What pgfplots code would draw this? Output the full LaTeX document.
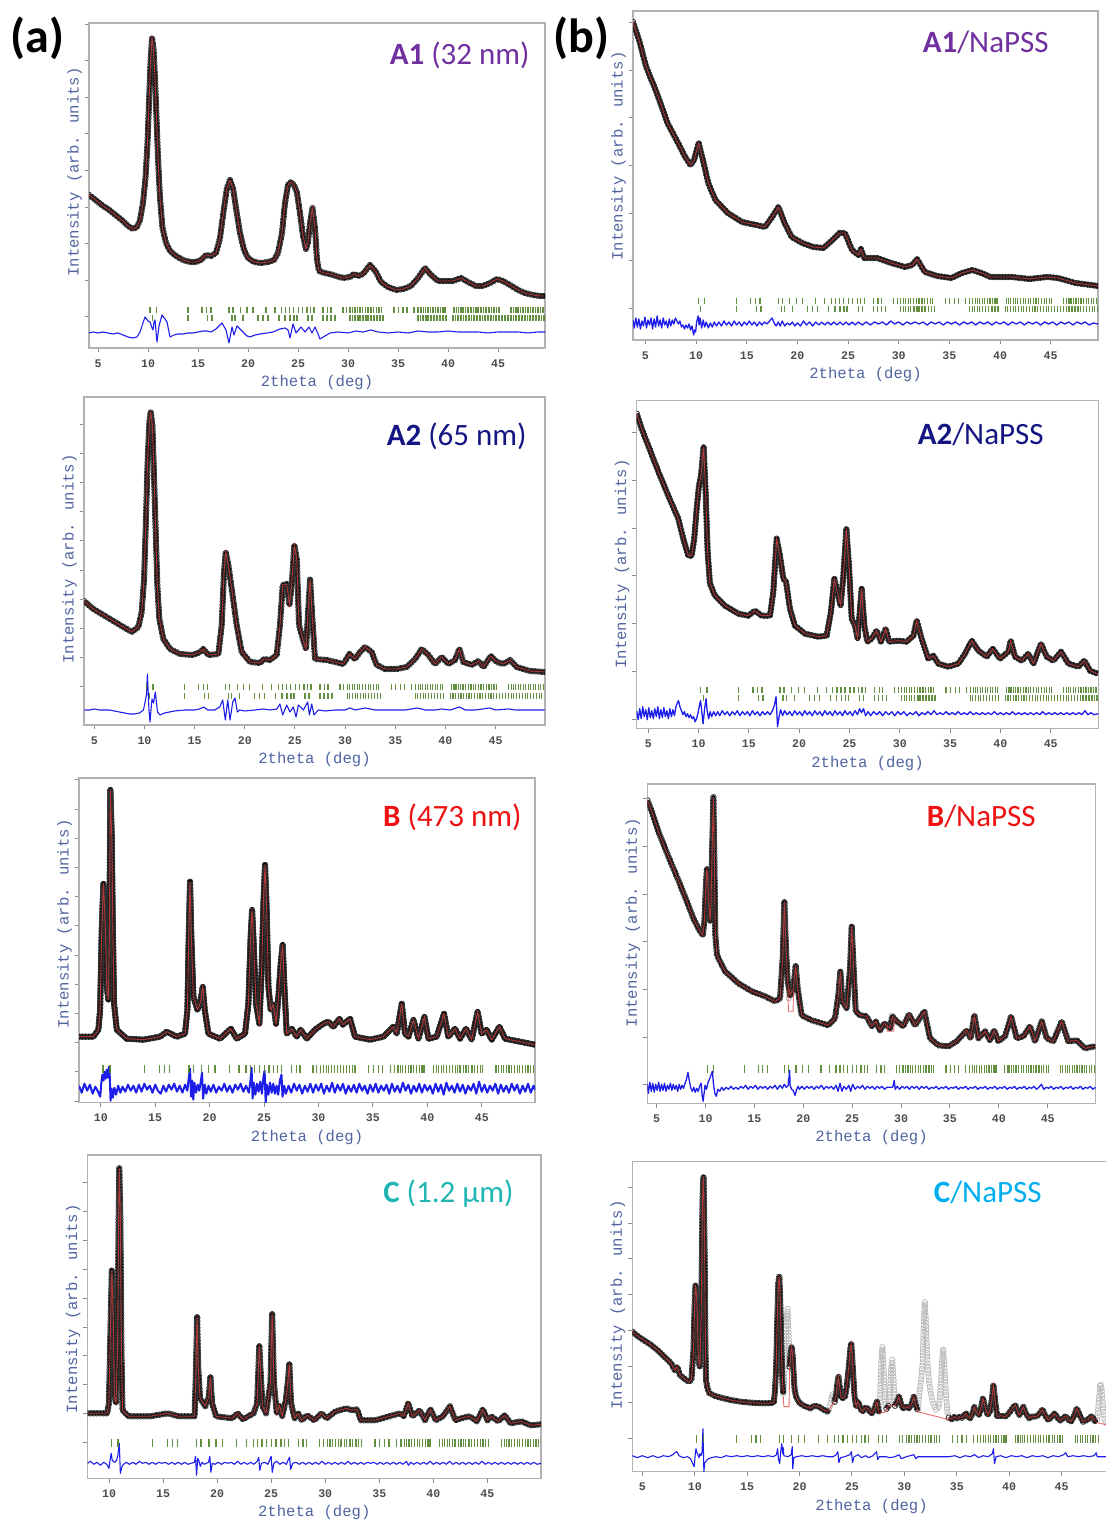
\documentclass[border=0pt]{standalone}
\usepackage{fontspec}
\setmainfont{Carlito}
\newfontfamily\monofont{Liberation Mono}
\usepackage{pgfplots}
\pgfplotsset{compat=1.18}
\usepackage{pgfplotstable}
\usetikzlibrary{decorations.markings}

\definecolor{tickgreen}{RGB}{70,125,30}
\definecolor{labblue}{RGB}{80,100,160}
\definecolor{diffblue}{RGB}{30,30,235}
\definecolor{calcred}{RGB}{225,60,60}
\definecolor{cAone}{RGB}{112,48,160}
\definecolor{cAtwo}{RGB}{20,20,130}
\definecolor{cB}{RGB}{238,17,17}
\definecolor{cC}{RGB}{31,181,179}
\definecolor{cCN}{RGB}{0,174,239}

\newcommand\tickfont{\monofont\bfseries\fontsize{5.8pt}{6.5pt}\selectfont}
\newcommand\labfont{\monofont\fontsize{7.8pt}{9pt}\selectfont}
\newcommand\titlefont{\fontsize{15.5pt}{18pt}\selectfont}
\newcommand\panelfont{\bfseries\fontsize{24pt}{28pt}\selectfont}

\pgfplotsset{
  xrd/.style={
    scale only axis, clip=true, disabledatascaling,
    axis line style={draw=black!30, line width=0.7pt},
    tick pos=left, tick align=outside, major tick length=2.2pt,
    tick style={draw=black!45, line width=0.5pt},
    ymin=0, yticklabels={},
    /pgf/number format/assume math mode=true,
    xticklabel style={font=\tickfont, text=black!70},
    xlabel={2theta (deg)}, ylabel={Intensity (arb. units)},
    label style={font=\labfont, text=labblue},
    xlabel style={at={([yshift=-17.25pt]axis description cs:0.5,0)}, anchor=center},
  },
  ylab/.style={ylabel style={at={([xshift=-7.25pt]axis description cs:0,#1)}, anchor=center}},
  obs/.style={draw=black, line width=#1, line join=round, mark=none,
    postaction={decorate},
    decoration={markings, mark=between positions 0 and 1 step 1.6pt with
      {\draw[black!80, line width=0.4pt] (0,0) circle (1.4pt);}}},
  obs/.default=2.1pt,
  excl/.style={draw=none, mark=none, postaction={decorate},
    decoration={markings, mark=between positions 0 and 1 step 1.7pt with
      {\draw[black!28, line width=0.35pt] (0,0) circle (1.35pt);}}},
  calc/.style={draw=calcred, line width=0.45pt, opacity=0.75, mark=none},
  diff/.style={draw=diffblue, line width=#1, line join=round, mark=none},
  diff/.default=0.55pt,
  refl/.style={color=tickgreen, only marks, mark=|, mark size=#1,
    mark options={line width=0.6pt, opacity=0.85}},
}

% reflection positions of the two phases (second column: phase number)
\pgfplotstableread[row sep=\\]{pos ph\\
10.2 1\\10.84 1\\14.0 1\\15.4 1\\15.85 1\\16.3 1\\18.1 1\\18.5 1\\19.25 1\\19.9 1\\20.5 1\\21.8 1\\22.7 1\\23.35 1\\23.75 1\\24.15 1\\24.55 1\\25.05 1\\25.45 1\\25.9 1\\26.25 1\\26.6 1\\27.5 1\\27.95 1\\28.3 1\\29.5 1\\29.85 1\\30.2 1\\30.45 1\\30.7 1\\30.95 1\\31.2 1\\31.45 1\\31.75 1\\32.0 1\\32.3 1\\32.55 1\\32.85 1\\33.1 1\\33.35 1\\34.6 1\\35.05 1\\35.5 1\\35.9 1\\36.6 1\\37.0 1\\37.3 1\\37.55 1\\37.75 1\\38.0 1\\38.25 1\\38.5 1\\38.75 1\\39.0 1\\39.25 1\\39.5 1\\39.7 1\\40.6 1\\40.85 1\\41.05 1\\41.3 1\\41.5 1\\41.75 1\\42.0 1\\42.3 1\\42.55 1\\42.8 1\\43.0 1\\43.3 1\\43.55 1\\43.8 1\\44.1 1\\44.35 1\\44.6 1\\44.85 1\\45.1 1\\46.3 1\\46.55 1\\46.8 1\\47.0 1\\47.25 1\\47.5 1\\47.75 1\\48.0 1\\48.25 1\\48.5 1\\48.75 1\\49.0 1\\49.25 1\\49.5 1\\49.75 1\\
}\phaseone
\pgfplotstableread[row sep=\\]{pos ph\\
10.47 2\\14.0 2\\15.97 2\\16.4 2\\18.4 2\\18.7 2\\19.5 2\\21.0 2\\21.5 2\\22.0 2\\23.1 2\\23.7 2\\24.2 2\\24.6 2\\24.9 2\\26.0 2\\26.4 2\\27.5 2\\27.9 2\\28.3 2\\28.7 2\\30.2 2\\30.45 2\\30.7 2\\31.0 2\\31.2 2\\31.5 2\\31.8 2\\32.0 2\\32.3 2\\32.6 2\\32.9 2\\33.2 2\\33.5 2\\37.0 2\\37.25 2\\37.5 2\\37.8 2\\38.0 2\\38.3 2\\38.6 2\\38.9 2\\39.2 2\\39.5 2\\39.8 2\\40.5 2\\40.75 2\\41.0 2\\41.3 2\\41.55 2\\41.8 2\\42.1 2\\42.35 2\\42.6 2\\42.9 2\\43.2 2\\43.45 2\\43.7 2\\44.0 2\\44.3 2\\44.55 2\\44.8 2\\45.1 2\\45.4 2\\45.7 2\\46.0 2\\46.3 2\\46.55 2\\46.8 2\\47.1 2\\47.4 2\\47.7 2\\47.95 2\\48.2 2\\48.5 2\\48.8 2\\49.1 2\\49.35 2\\49.6 2\\
}\phasetwo

% ---------- A1 ----------
\pgfplotstableread[row sep=\\]{x y\\
4.1 153\\4.5 150\\5.0 146\\5.5 142\\6.0 139\\6.5 135\\7.0 131\\7.5 127\\8.0 122\\8.5 119\\8.9 121\\9.2 128\\9.5 145\\9.75 170\\9.95 205\\10.1 245\\10.25 285\\10.4 310\\10.55 300\\10.7 270\\10.85 230\\11.0 190\\11.2 150\\11.45 120\\11.8 105\\12.2 97\\12.8 92\\13.5 88\\14.2 86\\14.8 86\\15.3 88\\15.8 93\\16.3 92\\16.8 95\\17.2 110\\17.6 140\\17.9 160\\18.2 168\\18.5 160\\18.8 140\\19.2 115\\19.6 98\\20.0 90\\20.6 86\\21.3 85\\22.0 86\\22.6 88\\23.0 95\\23.4 115\\23.7 145\\24.0 163\\24.3 166\\24.6 163\\24.9 155\\25.2 135\\25.5 112\\25.8 99\\26.0 106\\26.2 125\\26.45 140\\26.7 120\\26.9 88\\27.1 77\\27.6 75\\28.2 74\\28.8 72\\29.5 70\\30.2 71\\30.6 74\\31.0 72\\31.5 74\\32.2 83\\32.8 76\\33.3 66\\34.0 61\\34.8 58\\35.5 59\\36.3 62\\37.0 70\\37.7 80\\38.3 73\\39.0 67\\39.8 67\\40.5 67\\41.3 70\\42.0 66\\42.8 62\\43.5 62\\44.2 65\\44.9 69\\45.5 67\\46.2 63\\47.0 58\\47.7 55\\48.5 53\\49.2 52\\49.7 52\\
}\aOneObs
\pgfplotstableread[row sep=\\]{x y\\
4.1 15\\4.5 16\\5 15\\5.5 16\\6 15\\6.5 14\\7 15\\7.5 13\\8 11\\8.5 10\\8.9 11\\9.2 16\\9.5 25\\9.7 31\\10 27\\10.2 26\\10.4 20\\10.5 18\\10.6 26\\10.7 28\\10.9 6\\11.1 22\\11.4 33\\11.7 29\\11.9 26\\12.2 11\\12.6 13\\13 14\\13.5 14\\14 15\\14.5 15\\15 16\\15.5 17\\15.9 17\\16.3 16\\16.8 19\\17.2 23\\17.4 25\\17.8 18\\18.1 5\\18.4 21\\18.6 13\\18.9 22\\19.2 19\\19.5 16\\19.9 12\\20.2 11\\20.7 13\\21.2 14\\21.9 15\\22.5 16\\23.2 19\\23.7 20\\24.0 18\\24.2 10\\24.5 24\\24.8 15\\25.3 21\\25.7 16\\26.1 21\\26.4 15\\26.7 21\\27.0 14\\27.2 9\\27.7 12\\28.2 15\\29 16\\30 15\\30.8 17\\31.5 16\\32.3 18\\33 16\\34 15\\35 16\\36 15\\37 17\\38 16\\39 16\\40 17\\41 16\\42 16\\43 16\\44 15\\45 16\\46 16\\47 16\\48 15\\49 16\\49.7 16\\
}\aOneDiff

% ---------- A2 ----------
\pgfplotstableread[row sep=\\]{x y\\
3.97 124\\4.9 116\\6.56 106\\8.23 96\\8.73 93\\9.39 98\\9.72 113\\9.96 146\\10.15 206\\10.32 266\\10.49 303\\10.62 313\\10.79 300\\10.95 250\\11.12 193\\11.28 140\\11.48 106\\11.88 86\\12.55 76\\13.54 71\\14.87 70\\15.54 73\\15.87 76\\16.37 70\\17.37 71\\17.7 100\\17.93 153\\18.1 173\\18.36 160\\18.7 136\\19.19 100\\19.69 73\\20.52 63\\21.52 62\\21.92 66\\22.52 65\\23.18 70\\23.51 100\\23.78 140\\24.18 141\\24.45 120\\24.68 140\\24.94 180\\25.18 166\\25.41 100\\25.78 86\\26.11 76\\26.27 106\\26.51 146\\26.74 106\\27.0 66\\28.17 65\\29.83 61\\30.43 71\\30.99 66\\31.49 73\\31.99 78\\32.65 73\\33.15 60\\33.98 56\\35.15 56\\36.14 58\\36.98 66\\37.64 76\\38.3 70\\38.97 61\\39.63 68\\40.3 61\\40.96 65\\41.39 76\\41.79 63\\42.62 60\\43.29 64\\43.79 58\\44.52 69\\45.12 63\\45.78 61\\46.45 65\\47.11 58\\48.44 54\\49.94 53\\
}\aTwoObs
\pgfplotstableread[row sep=\\]{x y\\
4.0 15\\4.5 15\\5 16\\5.5 15\\6 15\\6.5 15\\7 14\\7.5 13\\8 12\\8.5 11\\9 11\\9.5 12\\9.9 15\\10.2 30\\10.29 51\\10.38 30\\10.45 15\\10.55 3\\10.65 15\\10.75 26\\10.9 22\\11.08 33\\11.2 22\\11.3 13\\11.55 10\\12 12\\12.5 13\\13 14\\14 15\\15 15\\15.5 16\\15.9 18\\16.3 15\\17 15\\17.5 18\\17.8 25\\18.06 5\\18.3 25\\18.53 5\\18.8 23\\19.03 27\\19.26 13\\19.5 15\\20 14\\21 15\\21.85 16\\22.5 15\\23.2 16\\23.5 21\\23.78 10\\24.18 20\\24.51 13\\24.84 18\\25.11 8\\25.34 20\\25.84 15\\26.27 23\\26.44 10\\26.67 21\\26.9 10\\27.34 15\\28 14\\29 15\\30 15\\30.5 17\\31 15\\32 17\\33 15\\34 15\\35 15\\36 15\\37.2 17\\38 15\\39 15\\39.6 16\\40.5 15\\41.4 18\\42 15\\43 15\\44.4 17\\45 15\\46.3 16\\47 15\\48 15\\49 15\\49.9 15\\
}\aTwoDiff

% ---------- B ----------
\pgfplotstableread[row sep=\\]{x y\\
8.0 66\\9.32 66\\9.78 73\\9.94 93\\10.09 173\\10.24 219\\10.4 183\\10.55 116\\10.7 103\\10.79 166\\10.88 313\\11.01 266\\11.1 183\\11.22 99\\11.47 73\\12.38 64\\13.92 63\\15.45 66\\16.06 71\\16.98 66\\17.74 69\\17.96 93\\18.08 166\\18.2 221\\18.32 166\\18.51 106\\18.88 93\\19.12 99\\19.37 116\\19.55 93\\19.89 69\\20.96 64\\21.94 74\\22.49 64\\23.25 69\\23.56 99\\23.77 166\\23.9 193\\24.02 166\\24.26 99\\24.57 79\\24.78 133\\24.94 199\\25.09 238\\25.24 193\\25.4 116\\25.61 93\\25.86 98\\26.1 79\\26.32 106\\26.53 139\\26.71 158\\26.87 116\\27.08 69\\27.54 74\\28.0 66\\28.37 73\\28.92 64\\29.68 73\\30.45 79\\30.91 81\\31.37 76\\31.92 84\\32.23 78\\32.9 84\\33.36 66\\34.74 63\\35.96 66\\36.88 76\\37.19 69\\37.65 99\\37.95 69\\38.26 66\\38.72 83\\39.18 64\\39.73 86\\40.1 64\\40.86 66\\41.53 89\\41.93 66\\42.54 74\\43.0 64\\43.55 74\\44.07 63\\44.62 91\\44.99 69\\45.45 73\\45.91 63\\46.62 76\\47.14 64\\48.51 61\\49.89 58\\
}\bObs
\pgfplotstableread[row sep=\\]{x y\\
8.00 17\\8.25 10\\8.50 19\\8.75 12\\9.00 18\\9.25 9\\9.50 16\\9.75 11\\9.95 6\\10.05 20\\10.15 28\\10.25 22\\10.35 31\\10.45 24\\10.55 33\\10.65 25\\10.75 36\\10.82 28\\10.9 2\\11.0 14\\11.1 5\\11.25 15\\11.4 8\\11.6 17\\11.8 10\\12.0 16\\12.25 11\\12.5 18\\12.75 12\\13.0 17\\13.25 10\\13.5 18\\13.75 11\\14.0 19\\14.25 13\\14.5 17\\14.75 10\\15.0 18\\15.25 12\\15.5 9\\15.75 17\\16.0 11\\16.25 18\\16.5 13\\16.75 19\\17.0 11\\17.25 17\\17.5 10\\17.75 18\\17.95 12\\18.1 26\\18.2 34\\18.3 6\\18.4 22\\18.5 3\\18.6 20\\18.75 10\\18.9 18\\19.05 12\\19.2 22\\19.3 30\\19.4 4\\19.55 18\\19.7 9\\19.9 17\\20.1 11\\20.35 18\\20.6 10\\20.85 16\\21.1 12\\21.35 19\\21.6 11\\21.85 17\\22.1 10\\22.35 18\\22.6 13\\22.85 19\\23.1 11\\23.35 17\\23.6 10\\23.75 22\\23.85 35\\23.95 4\\24.05 20\\24.2 8\\24.35 19\\24.5 11\\24.65 21\\24.8 9\\24.95 26\\25.05 32\\25.15 0\\25.25 18\\25.4 8\\25.55 20\\25.7 10\\25.85 19\\26.0 9\\26.15 17\\26.3 8\\26.45 22\\26.6 28\\26.7 6\\26.85 17\\27.0 9\\27.25 17\\27.5 10\\27.75 19\\28.0 12\\28.25 18\\28.5 9\\28.75 17\\29.0 11\\29.25 19\\29.5 10\\29.75 18\\30.0 12\\30.25 19\\30.5 9\\30.75 17\\31.0 11\\31.25 20\\31.5 10\\31.75 18\\32.0 12\\32.25 19\\32.5 9\\32.75 17\\33.0 11\\33.25 18\\33.5 10\\33.75 19\\34.0 12\\34.25 17\\34.5 9\\34.75 18\\35.0 11\\35.25 19\\35.5 10\\35.75 17\\36.0 12\\36.25 18\\36.5 9\\36.75 19\\37.0 11\\37.25 17\\37.5 10\\37.75 20\\38.0 12\\38.25 18\\38.5 9\\38.75 17\\39.0 11\\39.25 19\\39.5 10\\39.75 18\\40.0 12\\40.25 17\\40.5 9\\40.75 19\\41.0 11\\41.25 18\\41.5 8\\41.75 20\\42.0 12\\42.25 17\\42.5 10\\42.75 19\\43.0 11\\43.25 18\\43.5 9\\43.75 17\\44.0 12\\44.25 19\\44.5 9\\44.75 21\\45.0 11\\45.25 18\\45.5 10\\45.75 17\\46.0 12\\46.25 19\\46.5 9\\46.75 18\\47.0 11\\47.25 17\\47.5 10\\47.75 19\\48.0 12\\48.25 18\\48.5 9\\48.75 17\\49.0 11\\49.25 19\\49.5 10\\49.75 17\\49.9 13\\
}\bDiff

% ---------- C ----------
\pgfplotstableread[row sep=\\]{x y\\
8.01 65\\9.83 65\\9.99 75\\10.16 162\\10.26 208\\10.39 162\\10.49 82\\10.65 75\\10.79 128\\10.89 262\\10.95 310\\11.05 262\\11.15 128\\11.25 68\\11.81 62\\13.79 62\\15.44 65\\16.44 62\\17.92 62\\18.05 112\\18.15 162\\18.25 112\\18.42 80\\18.91 72\\19.24 82\\19.38 102\\19.54 75\\19.9 62\\21.39 60\\21.89 65\\22.38 59\\23.37 65\\23.7 75\\23.83 112\\23.9 133\\24.0 112\\24.2 72\\24.53 65\\24.93 95\\25.09 165\\25.26 95\\25.52 65\\25.78 73\\26.02 62\\26.35 78\\26.55 98\\26.68 115\\26.84 75\\27.17 60\\27.5 65\\27.83 58\\28.33 63\\28.99 58\\29.65 65\\30.14 60\\30.97 67\\31.96 70\\32.46 68\\32.95 69\\33.28 58\\34.6 58\\35.93 62\\36.92 65\\37.25 62\\37.68 75\\38.07 62\\38.74 68\\39.23 58\\39.73 69\\40.22 58\\40.88 62\\41.54 72\\42.04 58\\42.53 60\\43.36 62\\44.02 57\\44.58 69\\45.01 58\\45.34 62\\46.0 57\\46.6 63\\47.16 55\\48.15 57\\48.98 53\\49.97 54\\
}\cObs
\pgfplotstableread[row sep=\\]{x y\\
8.0 15\\8.3 17\\8.6 14\\8.9 16\\9.2 13\\9.5 16\\9.8 14\\10.0 10\\10.1 18\\10.2 25\\10.3 18\\10.4 17\\10.55 16\\10.7 18\\10.82 23\\10.95 35\\11.05 5\\11.2 12\\11.35 14\\11.6 16\\11.9 14\\12.2 16\\12.5 14\\12.8 17\\13.1 15\\13.4 16\\13.7 14\\14.0 16\\14.3 14\\14.6 16\\14.9 15\\15.2 16\\15.5 14\\15.8 16\\16.1 14\\16.4 16\\16.7 14\\17.0 16\\17.3 14\\17.6 15\\17.9 16\\18.0 22\\18.1 3\\18.2 20\\18.3 18\\18.45 12\\18.6 16\\18.8 14\\19.0 15\\19.2 16\\19.33 22\\19.42 6\\19.55 15\\19.8 14\\20.1 16\\20.4 14\\20.7 16\\21.0 15\\21.3 16\\21.6 14\\21.9 17\\22.2 14\\22.5 16\\22.8 14\\23.1 16\\23.4 14\\23.7 17\\23.85 21\\23.95 8\\24.1 15\\24.4 16\\24.7 14\\25.0 22\\25.1 6\\25.25 15\\25.5 17\\25.8 14\\26.1 16\\26.4 14\\26.6 19\\26.7 21\\26.8 9\\27.0 15\\27.3 16\\27.6 14\\27.9 16\\28.2 14\\28.5 16\\28.8 14\\29.1 16\\29.4 14\\29.7 17\\30.0 14\\30.3 16\\30.6 14\\30.9 16\\31.2 14\\31.5 16\\31.8 14\\32.1 17\\32.4 14\\32.7 16\\33.0 14\\33.3 16\\33.6 14\\33.9 16\\34.2 15\\34.5 16\\34.8 14\\35.1 16\\35.4 14\\35.7 16\\36.0 14\\36.3 16\\36.6 14\\36.9 16\\37.2 14\\37.5 17\\37.7 13\\37.9 16\\38.2 14\\38.5 16\\38.8 14\\39.1 16\\39.4 14\\39.7 17\\40.0 14\\40.3 16\\40.6 14\\40.9 16\\41.2 14\\41.5 17\\41.8 14\\42.1 16\\42.4 14\\42.7 16\\43.0 14\\43.3 16\\43.6 14\\43.9 16\\44.2 14\\44.5 17\\44.8 14\\45.1 16\\45.4 14\\45.7 16\\46.0 14\\46.3 16\\46.6 14\\46.9 16\\47.2 14\\47.5 16\\47.8 14\\48.1 16\\48.4 14\\48.7 16\\49.0 14\\49.3 16\\49.6 14\\49.95 15\\
}\cDiff

% ---------- A1/NaPSS ----------
\pgfplotstableread[row sep=\\]{x y\\
3.77 318\\4.37 300\\5.07 273\\6.12 247\\7.17 217\\8.22 197\\8.92 183\\9.45 175\\9.8 180\\10.25 197\\10.67 180\\11.2 157\\11.9 140\\13.13 127\\14.53 118\\15.93 115\\16.8 113\\17.5 123\\18.13 133\\18.73 117\\19.43 103\\20.48 97\\21.53 93\\22.58 92\\23.46 100\\24.16 107\\24.68 107\\25.39 90\\26.02 85\\26.26 91\\26.61 82\\27.84 82\\29.24 77\\30.64 73\\31.34 75\\31.8 81\\32.57 68\\33.79 64\\35.19 62\\36.24 67\\37.29 70\\38.17 67\\39.05 63\\41.15 63\\42.9 61\\44.62 63\\45.7 62\\47.45 57\\49.67 54\\
}\aOneNObs
\pgfplotstableread[row sep=\\]{x y\\
3.77 20\\3.9 12\\4.05 22\\4.2 13\\4.35 21\\4.5 11\\4.65 19\\4.8 14\\4.95 23\\5.1 12\\5.25 20\\5.4 15\\5.55 22\\5.7 11\\5.85 21\\6.0 13\\6.15 24\\6.3 14\\6.45 20\\6.6 12\\6.75 22\\6.9 15\\7.05 19\\7.2 12\\7.35 21\\7.5 14\\7.65 20\\7.8 16\\7.95 22\\8.1 19\\8.25 16\\8.4 19\\8.55 13\\8.7 15\\8.85 11\\9.0 15\\9.15 12\\9.3 16\\9.45 10\\9.6 14\\9.75 5\\9.85 10\\9.95 8\\10.05 18\\10.2 24\\10.3 15\\10.4 22\\10.55 12\\10.7 20\\10.85 13\\11.0 18\\11.2 12\\11.4 17\\11.6 13\\11.8 18\\12.0 14\\12.25 18\\12.5 14\\12.75 19\\13.0 15\\13.25 18\\13.5 14\\13.75 19\\14.0 15\\14.25 18\\14.5 14\\14.75 18\\15.0 15\\15.25 19\\15.5 15\\15.75 18\\16.0 14\\16.25 18\\16.5 15\\16.75 18\\17.0 16\\17.25 19\\17.5 22\\17.7 17\\17.9 14\\18.1 18\\18.3 14\\18.5 19\\18.75 14\\19.0 17\\19.25 15\\19.5 18\\19.75 14\\20.0 17\\20.3 14\\20.6 19\\20.9 15\\21.2 18\\21.5 14\\21.8 18\\22.1 15\\22.4 18\\22.7 15\\23.0 18\\23.3 15\\23.6 18\\23.9 15\\24.2 18\\24.5 15\\24.8 18\\25.1 15\\25.4 18\\25.7 15\\26.0 18\\26.4 15\\26.8 18\\27.2 15\\27.6 18\\28.0 16\\28.4 18\\28.8 15\\29.2 19\\29.6 16\\30.0 18\\30.4 15\\30.8 18\\31.2 16\\31.6 18\\32.0 16\\32.4 18\\32.8 15\\33.2 18\\33.6 16\\34.0 18\\34.4 15\\34.8 18\\35.2 16\\35.6 18\\36.0 15\\36.4 18\\36.8 16\\37.2 18\\37.6 15\\38.0 18\\38.4 16\\38.8 18\\39.2 15\\39.6 18\\40.0 16\\40.4 18\\40.8 15\\41.2 18\\41.6 16\\42.0 18\\42.4 15\\42.8 18\\43.2 16\\43.6 18\\44.0 15\\44.4 18\\44.8 16\\45.2 18\\45.6 15\\46.0 18\\46.4 16\\46.8 18\\47.2 15\\47.6 18\\48.0 16\\48.4 18\\48.8 15\\49.2 17\\49.67 16\\
}\aOneNDiff

% ---------- A2/NaPSS ----------
\pgfplotstableread[row sep=\\]{x y\\
3.85 315\\4.34 300\\5.0 283\\6.0 257\\6.99 233\\7.98 210\\8.48 190\\8.98 173\\9.31 173\\9.57 190\\9.81 220\\10.04 243\\10.24 253\\10.5 282\\10.7 237\\10.9 177\\11.13 145\\11.63 133\\12.62 123\\13.95 115\\14.94 113\\15.6 118\\16.27 113\\17.1 113\\17.43 137\\17.76 190\\18.09 173\\18.42 150\\18.69 147\\19.08 120\\19.58 103\\20.58 95\\21.9 92\\22.73 93\\23.16 117\\23.49 150\\23.79 137\\24.12 123\\24.39 153\\24.69 200\\24.95 163\\25.22 110\\25.55 103\\25.81 90\\26.04 120\\26.21 140\\26.48 103\\26.77 87\\27.2 90\\27.7 98\\28.13 87\\28.6 100\\28.93 87\\29.86 88\\30.68 87\\31.35 93\\31.68 108\\32.17 90\\32.84 70\\33.33 73\\33.83 65\\34.83 62\\35.82 65\\36.48 75\\37.15 88\\37.81 78\\38.64 72\\39.23 80\\39.96 70\\40.79 77\\41.02 88\\41.45 72\\42.12 68\\42.78 75\\43.28 65\\44.04 85\\44.6 72\\45.27 68\\46.03 77\\46.76 65\\47.75 62\\48.35 68\\48.91 58\\49.67 55\\
}\aTwoNObs
\pgfplotstableread[row sep=\\]{x y\\
3.85 18\\4.0 9\\4.15 20\\4.3 10\\4.45 22\\4.6 12\\4.75 19\\4.9 9\\5.05 21\\5.2 11\\5.35 18\\5.5 10\\5.65 20\\5.8 12\\5.95 22\\6.1 10\\6.25 19\\6.4 11\\6.55 21\\6.7 12\\6.85 18\\7.0 10\\7.15 20\\7.3 12\\7.45 19\\7.6 13\\7.75 22\\7.9 26\\8.0 28\\8.15 22\\8.3 18\\8.45 14\\8.6 17\\8.75 12\\8.9 15\\9.05 11\\9.2 14\\9.35 10\\9.5 12\\9.65 7\\9.8 10\\9.95 16\\10.1 24\\10.2 28\\10.35 14\\10.45 5\\10.6 20\\10.75 30\\10.85 18\\11.0 10\\11.15 17\\11.3 12\\11.5 17\\11.7 13\\11.9 17\\12.1 13\\12.35 18\\12.6 14\\12.85 17\\13.1 13\\13.35 17\\13.6 14\\13.85 18\\14.1 13\\14.35 17\\14.6 14\\14.85 17\\15.1 13\\15.35 18\\15.6 14\\15.85 17\\16.1 13\\16.35 17\\16.6 14\\16.85 17\\17.1 14\\17.35 18\\17.55 24\\17.7 32\\17.85 2\\18.0 12\\18.15 19\\18.35 13\\18.55 18\\18.8 14\\19.05 17\\19.3 13\\19.55 18\\19.8 14\\20.05 17\\20.3 13\\20.55 18\\20.8 14\\21.05 17\\21.3 13\\21.55 18\\21.8 14\\22.05 17\\22.3 13\\22.55 18\\22.8 14\\23.05 17\\23.3 13\\23.55 18\\23.8 14\\24.05 17\\24.3 13\\24.55 18\\24.8 14\\25.05 17\\25.3 13\\25.55 18\\25.8 14\\26.0 20\\26.2 16\\26.4 20\\26.6 13\\26.85 17\\27.1 13\\27.4 17\\27.7 14\\28.0 17\\28.3 13\\28.6 17\\28.9 14\\29.2 17\\29.5 13\\29.8 17\\30.1 14\\30.4 17\\30.7 13\\31.0 16\\31.3 14\\31.6 17\\31.9 13\\32.2 16\\32.5 14\\32.8 17\\33.1 14\\33.4 18\\33.7 14\\34.0 16\\34.3 14\\34.6 17\\34.9 14\\35.2 16\\35.5 14\\35.8 17\\36.1 14\\36.4 16\\36.7 14\\37.0 17\\37.3 14\\37.6 16\\37.9 14\\38.2 16\\38.5 14\\38.8 16\\39.1 14\\39.4 17\\39.7 14\\40.0 16\\40.3 14\\40.6 16\\40.9 14\\41.2 17\\41.5 14\\41.8 16\\42.1 14\\42.4 16\\42.7 14\\43.0 16\\43.3 14\\43.6 16\\43.9 14\\44.2 17\\44.5 14\\44.8 16\\45.1 14\\45.4 16\\45.7 14\\46.0 16\\46.3 14\\46.6 16\\46.9 14\\47.2 16\\47.5 14\\47.8 16\\48.1 14\\48.4 18\\48.7 14\\49.0 16\\49.3 14\\49.73 15\\
}\aTwoNDiff

% ---------- B/NaPSS ----------
\pgfplotstableread[row sep=\\]{x y\\
4.05 303\\4.49 292\\5.17 272\\6.19 247\\7.22 223\\8.24 198\\8.75 185\\9.26 175\\9.71 168\\9.88 182\\10.05 222\\10.15 235\\10.29 208\\10.46 182\\10.56 202\\10.69 262\\10.8 306\\10.9 245\\11.0 168\\11.17 148\\11.99 132\\13.35 120\\14.72 112\\16.08 107\\17.11 102\\17.62 105\\17.89 145\\18.06 202\\18.23 155\\18.4 122\\18.64 108\\18.98 115\\19.22 138\\19.42 115\\19.83 88\\20.86 83\\21.88 80\\22.56 78\\23.24 85\\23.58 108\\23.79 132\\23.99 102\\24.44 95\\24.78 135\\24.95 177\\25.15 135\\25.36 92\\25.8 88\\26.48 87\\26.99 77\\27.4 82\\27.85 73\\28.29 80\\28.87 75\\29.11 87\\29.55 82\\30.23 77\\30.81 89\\31.43 78\\32.38 92\\32.96 65\\33.81 58\\34.84 57\\35.69 62\\36.71 73\\37.12 65\\37.5 88\\37.91 65\\38.59 72\\39.1 63\\39.51 73\\39.95 62\\40.64 67\\41.25 87\\41.83 65\\42.51 67\\43.19 77\\43.7 62\\44.39 82\\44.9 65\\45.58 62\\46.43 82\\47.11 62\\47.97 63\\48.82 55\\49.84 57\\
}\bNObs
\pgfplotstableread[row sep=\\]{x y\\
4.04 19\\4.15 10\\4.3 21\\4.45 12\\4.6 20\\4.75 11\\4.9 19\\5.05 13\\5.2 21\\5.35 12\\5.5 19\\5.65 13\\5.8 20\\5.95 12\\6.1 18\\6.25 14\\6.4 20\\6.55 13\\6.7 19\\6.85 14\\7.0 18\\7.15 12\\7.3 19\\7.45 14\\7.6 18\\7.75 15\\7.9 20\\8.05 24\\8.2 31\\8.35 22\\8.5 15\\8.65 12\\8.8 16\\8.95 11\\9.1 15\\9.25 12\\9.4 17\\9.55 20\\9.65 8\\9.75 2\\9.85 10\\9.95 18\\10.1 14\\10.25 21\\10.4 24\\10.55 28\\10.7 32\\10.8 20\\10.95 10\\11.1 7\\11.25 14\\11.45 12\\11.65 16\\11.85 13\\12.1 16\\12.35 14\\12.6 17\\12.85 14\\13.1 16\\13.35 14\\13.6 17\\13.85 15\\14.1 18\\14.35 14\\14.6 17\\14.85 15\\15.1 18\\15.35 14\\15.6 17\\15.85 15\\16.1 17\\16.35 14\\16.6 17\\16.85 15\\17.1 18\\17.35 14\\17.6 18\\17.85 15\\18.05 19\\18.25 16\\18.45 18\\18.6 33\\18.65 18\\18.8 14\\18.95 13\\19.15 8\\19.3 13\\19.45 17\\19.6 14\\19.85 17\\20.1 14\\20.35 17\\20.6 15\\20.85 17\\21.1 14\\21.35 17\\21.6 15\\21.85 18\\22.1 14\\22.35 17\\22.6 15\\22.85 17\\23.1 14\\23.35 18\\23.55 12\\23.75 20\\23.95 12\\24.15 17\\24.4 14\\24.65 18\\24.85 12\\25.05 19\\25.3 14\\25.55 17\\25.8 15\\26.05 18\\26.3 14\\26.55 17\\26.8 15\\27.05 17\\27.3 14\\27.55 17\\27.8 15\\28.05 17\\28.3 14\\28.55 16\\28.85 16\\29.15 16\\29.3 23\\29.4 14\\29.6 17\\29.85 14\\30.1 17\\30.35 15\\30.6 17\\30.85 14\\31.1 17\\31.35 15\\31.6 17\\31.85 14\\32.1 17\\32.35 15\\32.6 17\\32.85 14\\33.1 16\\33.35 15\\33.6 17\\33.85 14\\34.1 16\\34.35 15\\34.6 17\\34.85 14\\35.1 16\\35.35 15\\35.6 17\\35.85 14\\36.1 16\\36.35 15\\36.6 17\\36.85 14\\37.1 16\\37.35 15\\37.6 17\\37.85 14\\38.1 16\\38.35 15\\38.6 17\\38.85 14\\39.1 16\\39.35 15\\39.6 17\\39.85 14\\40.1 16\\40.35 15\\40.6 17\\40.85 14\\41.1 16\\41.35 15\\41.6 17\\41.85 14\\42.1 16\\42.35 15\\42.6 17\\42.85 14\\43.1 16\\43.35 15\\43.6 17\\43.85 14\\44.1 16\\44.35 19\\44.6 14\\44.85 16\\45.1 15\\45.35 17\\45.6 14\\45.85 16\\46.1 15\\46.35 17\\46.6 14\\46.85 16\\47.1 15\\47.35 17\\47.6 14\\47.85 16\\48.1 15\\48.35 17\\48.6 14\\48.85 16\\49.1 15\\49.35 17\\49.6 14\\49.9 16\\
}\bNDiff

% ---------- C/NaPSS: fitted segments between excluded regions ----------
\pgfplotstableread[row sep=\\]{x y\\
4.04 140\\4.5 136\\5.1 131.7\\5.8 127\\6.43 121.7\\7.1 115\\7.75 108.4\\8.08 101.7\\8.32 105\\8.58 96.7\\9.0 93\\9.41 90\\9.68 91.7\\9.88 121.7\\9.98 165\\10.07 186.7\\10.14 180\\10.21 168.4\\10.28 140\\10.34 115\\10.47 105\\10.55 125\\10.61 155\\10.68 215\\10.74 271.7\\10.8 290\\10.84 295\\10.89 260\\10.94 221.7\\10.99 160\\11.03 120\\11.07 91.7\\11.2 84\\11.4 78.4\\12.0 75.5\\12.73 73.4\\13.5 71.5\\14.39 70\\15.4 69\\16.38 68.4\\17.0 68.5\\17.54 69\\17.65 80\\17.77 105\\17.87 150\\17.97 188.4\\18.07 195\\18.14 175\\18.2 155\\18.28 120\\18.37 88.4\\18.45 78\\
}\cnSa
\pgfplotstableread[row sep=\\]{x y\\
19.05 105\\19.15 118\\19.25 125\\19.35 115\\19.45 95\\19.53 81.7\\19.7 74\\20.02 68.4\\20.5 65.5\\21.02 63.4\\21.4 66\\21.85 65\\22.2 62.5\\22.68 60\\22.8 62\\
}\cnSb
\pgfplotstableread[row sep=\\]{x y\\
23.35 70\\23.51 78.4\\23.6 88\\23.71 95\\23.82 86\\23.94 75\\24.1 73.5\\24.34 75\\24.5 85\\24.63 98\\24.73 108.4\\24.83 122\\24.93 128.4\\25.02 115\\25.13 95\\25.25 75\\25.4 65\\25.55 70\\25.66 68.4\\25.8 63\\26.0 60\\26.25 64\\26.49 63.4\\26.7 60\\26.92 58.4\\27.15 63\\27.3 68\\27.39 70\\27.48 64\\27.59 58.4\\
}\cnSc
\pgfplotstableread[row sep=\\]{x y\\
28.3 63\\28.5 66\\
}\cnSd
\pgfplotstableread[row sep=\\]{x y\\
29.1 66\\29.3 70\\29.48 75\\29.65 69\\29.8 64\\29.98 63.4\\30.2 65\\30.47 63.4\\30.7 68\\30.9 75\\31.05 68\\31.24 61.7\\
}\cnSe
\pgfplotstableread[row sep=\\]{x y\\
34.25 54\\34.5 52.5\\34.8 55\\35.05 53\\35.28 55\\35.5 54\\35.75 57\\35.88 58.4\\36.05 55\\36.28 53.4\\36.5 58\\36.67 65\\36.85 60\\37.11 56.7\\37.3 63\\37.5 73.4\\37.7 65\\37.93 56.7\\38.15 60\\38.35 72\\38.5 86.7\\38.65 72\\38.86 55\\39.2 56\\39.59 55\\39.85 57\\40.09 60\\40.35 64\\40.59 66.7\\40.8 60\\40.99 56.7\\41.15 60\\41.35 65\\41.6 58\\41.92 53.4\\42.25 55.5\\42.58 55\\42.9 58\\43.18 62.4\\43.45 56\\43.74 51.7\\44.05 55\\44.34 58.4\\44.6 54\\44.9 51\\45.15 53.5\\45.4 55.7\\45.65 52\\45.9 50\\46.2 56\\46.46 63.4\\46.75 56\\47.06 50\\47.5 52\\47.89 55.7\\48.15 51\\48.38 49\\
}\cnSf
\pgfplotstableread[row sep=\\]{x y\\
4.04 16\\4.5 14\\5.0 16\\5.5 14\\6.0 16\\6.5 14\\7.0 16\\7.5 15\\7.9 17\\8.1 19\\8.3 20\\8.5 16\\8.9 14\\9.3 15\\9.6 13\\9.85 7\\9.95 5\\10.05 18\\10.12 23\\10.2 19\\10.3 17\\10.4 14\\10.5 18\\10.6 16\\10.7 20\\10.78 43\\10.83 20\\10.87 0\\10.95 9\\11.1 11\\11.3 13\\11.6 14\\12.0 15\\12.5 14\\13.0 16\\13.5 15\\14.0 16\\14.5 15\\15.0 16\\15.5 15\\16.0 16\\16.5 15\\17.0 16\\17.5 15\\17.8 17\\17.9 23\\18.0 12\\18.1 8\\18.2 20\\18.3 28\\18.4 18\\18.45 24\\18.5 16\\18.9 15\\19.2 17\\19.3 25\\19.35 3\\19.45 14\\19.7 15\\20.2 16\\20.7 15\\21.2 16\\21.7 15\\22.2 16\\22.7 15\\23.2 15\\23.5 17\\23.65 20\\23.75 9\\23.9 14\\24.3 15\\24.8 17\\24.95 20\\25.05 9\\25.2 15\\25.6 17\\25.9 14\\26.3 16\\26.6 14\\27.0 16\\27.35 20\\27.45 12\\27.6 15\\28.3 15\\28.6 14\\29.1 15\\29.5 17\\29.7 13\\30.2 15\\30.9 17\\31.1 13\\31.3 15\\34.3 15\\34.8 16\\35.3 14\\35.8 16\\36.3 15\\36.7 17\\37.1 14\\37.5 16\\38.0 15\\38.4 18\\38.5 23\\38.6 8\\38.75 15\\39.2 16\\39.7 14\\40.2 16\\40.7 15\\41.2 16\\41.7 14\\42.2 16\\42.7 15\\43.2 16\\43.7 14\\44.2 16\\44.7 15\\45.2 17\\45.4 19\\45.6 15\\46.1 16\\46.6 15\\47.1 16\\47.6 15\\48.1 16\\48.3 19\\48.4 15\\49.7 15\\
}\cNDiff

\begin{document}
\begin{tikzpicture}
\useasboundingbox (0,0) rectangle (552.5pt,761pt);

% ===== A1 =====
\begin{axis}[xrd, ylab=0.5415, at={(44.5pt,587pt)}, anchor=south west,
  width=228pt, height=162.5pt, xmin=4.1, xmax=49.7, ymax=325,
  xtick={5,10,...,45}, ytick={31,67.6,104.2,140.8,177.4,214,250.6,287.2,323.8}]
\addplot[refl=1.5pt] table[x=pos, y expr=38] {\phaseone};
\addplot[refl=1.5pt] table[x=pos, y expr=29.7] {\phasetwo};
\addplot[diff] table {\aOneDiff};
\addplot[obs] table {\aOneObs};
\addplot[calc] table {\aOneObs};
\end{axis}

% ===== A2 =====
\begin{axis}[xrd, ylab=0.506, at={(42pt,398.5pt)}, anchor=south west,
  width=230.5pt, height=164pt, xmin=3.97, xmax=49.93, ymax=328,
  xtick={5,10,...,45}, ytick={38,67.2,96.4,125.6,154.8,184,213.2,242.4,271.6,300.8}]
\addplot[refl=1.5pt] table[x=pos, y expr=38] {\phaseone};
\addplot[refl=1.5pt] table[x=pos, y expr=29] {\phasetwo};
\addplot[diff] table {\aTwoDiff};
\addplot[obs] table {\aTwoObs};
\addplot[calc] table {\aTwoObs};
\end{axis}

% ===== B =====
\begin{axis}[xrd, ylab=0.55, at={(39.5pt,209.65pt)}, anchor=south west,
  width=228pt, height=162.35pt, xmin=8.0, xmax=49.89, ymax=324.7,
  xtick={10,15,...,45}, ytick={1.5,30.7,59.9,89.1,118.3,147.5,176.7,205.9,235.1,264.3,293.5,322.7}]
\addplot[refl=2pt] table[x=pos, y expr=33.4] {\phaseone};
\addplot[diff=1pt] table {\bDiff};
\addplot[obs=2.8pt] table {\bObs};
\addplot[calc] table {\bObs};
\end{axis}

% ===== C =====
\begin{axis}[xrd, ylab=0.524, at={(43.75pt,21.85pt)}, anchor=south west,
  width=226.75pt, height=161.65pt, xmin=8.01, xmax=49.96, ymax=323.3,
  xtick={10,15,...,45}, ytick={35.6,64.5,93.4,122.3,151.2,180.1,209,237.9,266.8,295.7}]
\addplot[refl=2pt] table[x=pos, y expr=35] {\phaseone};
\addplot[diff] table {\cDiff};
\addplot[obs] table {\cObs};
\addplot[calc] table {\cObs};
\end{axis}

% ===== A1/NaPSS =====
\begin{axis}[xrd, ylab=0.559, at={(316.5pt,591pt)}, anchor=south west,
  width=232.5pt, height=164.5pt, xmin=3.77, xmax=49.67, ymax=329,
  xtick={5,10,...,45}, ytick={31.7,79.3,126.9,174.5,222.1,269.7,317.3}]
\addplot[refl=1.5pt] table[x=pos, y expr=39] {\phaseone};
\addplot[refl=1.5pt] table[x=pos, y expr=30.7] {\phasetwo};
\addplot[diff=0.65pt] table {\aOneNDiff};
\addplot[obs=2.4pt] table {\aOneNObs};
\addplot[calc] table {\aOneNObs};
\end{axis}

% ===== A2/NaPSS =====
\begin{axis}[xrd, ylab=0.5015, at={(318.35pt,396.65pt)}, anchor=south west,
  width=230.8pt, height=164.2pt, xmin=3.85, xmax=49.73, ymax=328.4,
  xtick={5,10,...,45}, ytick={9,56.9,104.8,152.7,200.6,248.5,296.4}]
\addplot[refl=1.5pt] table[x=pos, y expr=39] {\phaseone};
\addplot[refl=1.5pt] table[x=pos, y expr=30.7] {\phasetwo};
\addplot[diff=0.65pt] table {\aTwoNDiff};
\addplot[obs=2.4pt] table {\aTwoNObs};
\addplot[calc] table {\aTwoNObs};
\end{axis}

% ===== B/NaPSS =====
\begin{axis}[xrd, ylab=0.566, at={(323.65pt,209.35pt)}, anchor=south west,
  width=224.2pt, height=159.65pt, xmin=4.04, xmax=49.91, ymax=319.3,
  xtick={5,10,...,45}, ytick={18.3,66,113.7,161.4,209.1,256.8,304.5}]
\addplot[refl=2pt] table[x=pos, y expr=34.3] {\phaseone};
\addplot[diff=0.65pt] table {\bNDiff};
\addplot[excl] coordinates {(18.5,105)(18.65,112)(18.8,110)(18.9,108)};
\addplot[excl] coordinates {(28.95,78)(29.05,88)(29.15,86)(29.25,78)};
\addplot[obs] table {\bNObs};
\addplot[calc] table {\bNObs};
\addplot[calc] coordinates {(18.42,115)(18.48,92)(18.95,92)(19.0,112)};
\addplot[calc] coordinates {(28.55,78)(28.6,72)(29.25,72)(29.3,84)};
\end{axis}

% ===== C/NaPSS =====
\begin{axis}[xrd, ylab=0.538, at={(316.15pt,25.15pt)}, anchor=south west,
  width=239.25pt, height=155pt, xmin=4.04, xmax=49.7, ymax=310,
  xtick={5,10,...,45}, ytick={33.7,69.5,105.3,141.1,176.9,212.7,248.5,284.3}]
\addplot[refl=2pt, restrict x to domain=0:48.5] table[x=pos, y expr=32.7] {\phaseone};
\addplot[diff] table {\cNDiff};
% excluded ranges
\addplot[excl] coordinates {(18.45,78)(18.55,95)(18.65,125)(18.75,150)(18.85,163)(18.95,140)(19.05,105)};
\addplot[excl] coordinates {(22.8,62)(23.0,70)(23.15,78)(23.3,72)(23.35,70)};
\addplot[excl] coordinates {(27.6,60)(27.7,80)(27.8,110)(27.9,125)(28.0,108)(28.1,82)(28.25,66)(28.3,63)};
\addplot[excl] coordinates {(28.5,68)(28.65,85)(28.75,105)(28.85,112)(28.95,95)(29.05,75)(29.1,66)};
\addplot[excl] coordinates {(31.3,62)(31.45,80)(31.6,92)(31.75,110)(31.85,150)(31.95,170)(32.05,150)(32.2,110)(32.35,90)(32.5,80)(32.7,70)(33.0,62)(33.3,65)(33.5,90)(33.62,115)(33.7,123)(33.8,110)(33.95,80)(34.1,60)(34.25,55)};
\addplot[excl] coordinates {(48.4,52)(48.55,70)(48.7,88)(48.8,85)(48.95,65)(49.1,52)(49.3,48)(49.7,47)};
\addplot[obs] table {\cnSa};
\addplot[obs] table {\cnSb};
\addplot[obs] table {\cnSc};
\addplot[obs] table {\cnSd};
\addplot[obs] table {\cnSe};
\addplot[obs] table {\cnSf};
\addplot[calc] table {\cnSa};
\addplot[calc] table {\cnSb};
\addplot[calc] table {\cnSc};
\addplot[calc] table {\cnSd};
\addplot[calc] table {\cnSe};
\addplot[calc] table {\cnSf};
% background used by the fit across the excluded ranges
\addplot[calc] coordinates {(18.45,75)(18.5,65)(19.0,65)(19.05,105)};
\addplot[calc] coordinates {(22.8,62)(23.35,70)};
\addplot[calc] coordinates {(27.59,58.4)(28.3,60)(28.3,63)};
\addplot[calc] coordinates {(28.5,66)(29.1,66)};
\addplot[calc] coordinates {(31.24,61.7)(31.3,60)(34.25,52)(34.25,54)};
\addplot[calc] coordinates {(48.38,49)(49.7,46)};
\end{axis}

% ===== titles =====
\node[anchor=base west, inner sep=0, font=\panelfont] at (5pt,734.5pt) {(a)};
\node[anchor=base west, inner sep=0, font=\panelfont] at (276.5pt,734.5pt) {(b)};
\node[anchor=base east, inner sep=0, font=\titlefont, text=cAone] at (265pt,728.5pt) {\textbf{A1} (32 nm)};
\node[anchor=base east, inner sep=0, font=\titlefont, text=cAtwo] at (263.5pt,538pt) {\textbf{A2} (65 nm)};
\node[anchor=base east, inner sep=0, font=\titlefont, text=cB] at (261pt,347.5pt) {\textbf{B} (473 nm)};
\node[anchor=base east, inner sep=0, font=\titlefont, text=cC] at (257pt,159.5pt) {\textbf{C} (1.2 μm)};
\node[anchor=base east, inner sep=0, font=\titlefont, text=cAone] at (524.5pt,734.5pt) {\textbf{A1}/NaPSS};
\node[anchor=base east, inner sep=0, font=\titlefont, text=cAtwo] at (522pt,538.5pt) {\textbf{A2}/NaPSS};
\node[anchor=base east, inner sep=0, font=\titlefont, text=cB] at (518pt,347.5pt) {\textbf{B}/NaPSS};
\node[anchor=base east, inner sep=0, font=\titlefont, text=cCN] at (521pt,159.5pt) {\textbf{C}/NaPSS};
\end{tikzpicture}
\end{document}
